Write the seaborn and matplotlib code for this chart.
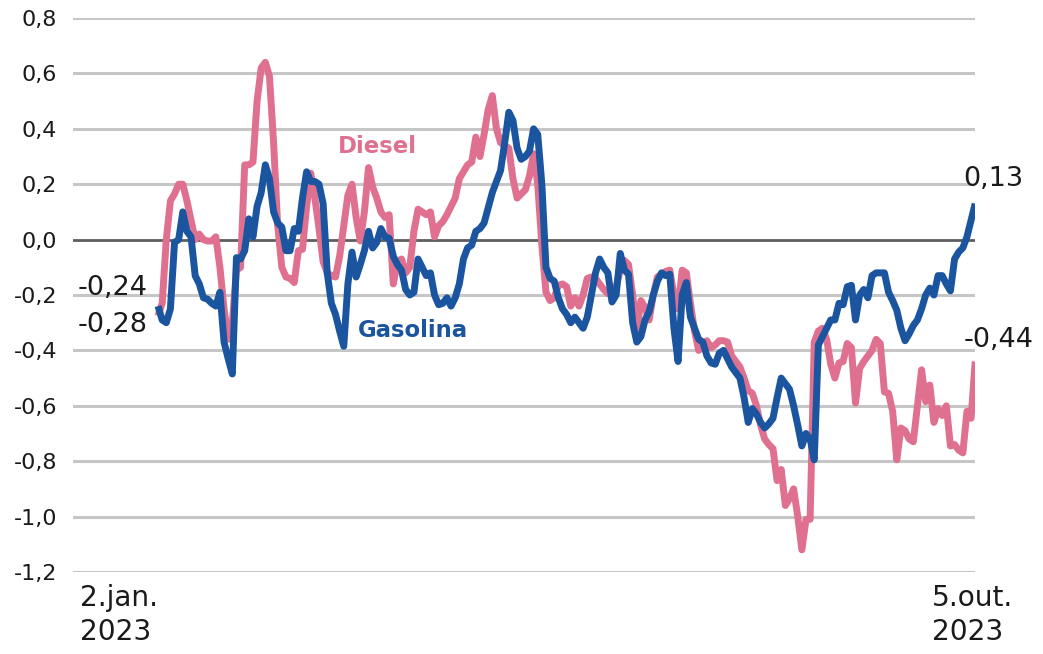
import numpy as np
import pandas as pd
import matplotlib
matplotlib.use("Agg")
import matplotlib.pyplot as plt
import seaborn as sns

# ---- data (R$/litro, trading days 2 jan 2023 - 5 out 2023) ----
gasolina = [
    -0.24, -0.29, -0.30, -0.25, -0.01, 0.00, 0.10, 0.03, 0.01, -0.13,
    -0.16, -0.21, -0.215, -0.23, -0.24, -0.19, -0.37, -0.43, -0.485, -0.065,
    -0.07, -0.04, 0.075, 0.01, 0.12, 0.17, 0.27, 0.22, 0.10, 0.06,
    0.045, -0.04, -0.04, 0.04, 0.03, 0.15, 0.245, 0.21, 0.21, 0.20,
    0.13, -0.12, -0.23, -0.27, -0.33, -0.385, -0.16, -0.045, -0.135, -0.09,
    -0.04, 0.03, -0.03, -0.01, 0.04, 0.01, 0.005, -0.06, -0.09, -0.11,
    -0.18, -0.20, -0.19, -0.07, -0.10, -0.13, -0.12, -0.20, -0.235, -0.23,
    -0.21, -0.24, -0.21, -0.16, -0.07, -0.03, -0.02, 0.03, 0.04, 0.06,
    0.115, 0.17, 0.21, 0.25, 0.35, 0.46, 0.43, 0.33, 0.29, 0.30,
    0.32, 0.40, 0.38, 0.20, -0.10, -0.14, -0.15, -0.21, -0.25, -0.27,
    -0.30, -0.28, -0.30, -0.32, -0.28, -0.20, -0.12, -0.07, -0.10, -0.12,
    -0.225, -0.20, -0.05, -0.11, -0.125, -0.30, -0.37, -0.35, -0.29, -0.26,
    -0.20, -0.15, -0.12, -0.13, -0.125, -0.32, -0.44, -0.20, -0.155, -0.28,
    -0.32, -0.36, -0.37, -0.42, -0.445, -0.45, -0.41, -0.40, -0.43, -0.46,
    -0.48, -0.50, -0.57, -0.66, -0.61, -0.63, -0.66, -0.68, -0.665, -0.645,
    -0.57, -0.50, -0.52, -0.54, -0.60, -0.67, -0.745, -0.70, -0.72, -0.795,
    -0.38, -0.35, -0.32, -0.29, -0.29, -0.23, -0.235, -0.17, -0.165, -0.29,
    -0.20, -0.18, -0.21, -0.13, -0.12, -0.12, -0.12, -0.19, -0.22, -0.255,
    -0.32, -0.365, -0.34, -0.31, -0.29, -0.25, -0.20, -0.175, -0.20, -0.13,
    -0.13, -0.16, -0.185, -0.07, -0.045, -0.03, 0.01, 0.07, 0.13,
]
diesel = [
    -0.275, -0.23, 0.00, 0.14, 0.165, 0.20, 0.20, 0.14, 0.07, 0.00,
    0.02, 0.00, -0.005, -0.005, 0.01, -0.10, -0.25, -0.36, -0.30, -0.11,
    -0.10, 0.27, 0.27, 0.28, 0.50, 0.62, 0.64, 0.59, 0.35, 0.05,
    -0.10, -0.135, -0.14, -0.155, -0.04, -0.035, 0.12, 0.24, 0.15, 0.04,
    -0.08, -0.12, -0.13, -0.135, -0.06, 0.05, 0.16, 0.20, 0.08, -0.005,
    0.10, 0.26, 0.19, 0.15, 0.10, 0.08, 0.09, -0.16, -0.08, -0.07,
    -0.12, -0.10, 0.03, 0.11, 0.10, 0.09, 0.10, 0.01, 0.05, 0.065,
    0.09, 0.12, 0.15, 0.22, 0.245, 0.27, 0.28, 0.37, 0.30, 0.38,
    0.47, 0.52, 0.40, 0.35, 0.34, 0.33, 0.22, 0.15, 0.165, 0.18,
    0.23, 0.31, 0.20, -0.02, -0.19, -0.22, -0.21, -0.165, -0.16, -0.17,
    -0.24, -0.21, -0.24, -0.20, -0.14, -0.135, -0.14, -0.16, -0.18, -0.195,
    -0.195, -0.17, -0.11, -0.075, -0.09, -0.20, -0.33, -0.22, -0.245, -0.29,
    -0.20, -0.135, -0.125, -0.115, -0.11, -0.20, -0.25, -0.11, -0.12, -0.23,
    -0.33, -0.40, -0.38, -0.365, -0.39, -0.38, -0.365, -0.365, -0.37, -0.42,
    -0.44, -0.46, -0.50, -0.545, -0.555, -0.60, -0.67, -0.72, -0.74, -0.755,
    -0.87, -0.83, -0.96, -0.935, -0.90, -1.00, -1.12, -1.01, -1.01, -0.37,
    -0.33, -0.32, -0.36, -0.45, -0.50, -0.445, -0.44, -0.375, -0.39, -0.59,
    -0.465, -0.44, -0.42, -0.40, -0.36, -0.375, -0.55, -0.555, -0.62, -0.795,
    -0.68, -0.69, -0.72, -0.73, -0.60, -0.47, -0.585, -0.525, -0.66, -0.61,
    -0.635, -0.60, -0.745, -0.74, -0.76, -0.77, -0.62, -0.645, -0.44,
]
y_ticks = [0.8, 0.6, 0.4, 0.2, 0.0, -0.2, -0.4, -0.6, -0.8, -1.0, -1.2]
x_labels = ["2.jan.\n2023", "5.out.\n2023"]
series_names = ["Diesel", "Gasolina"]

dates = pd.bdate_range("2023-01-02", "2023-10-05")
n = len(dates)
df = pd.DataFrame({
    "data": list(dates) * 2,
    "dia": list(range(n)) * 2,
    "valor": diesel + gasolina,
    "serie": ["Diesel"] * n + ["Gasolina"] * n,
})

PINK = "#e0708f"
BLUE = "#1b55a0"
TXT = "#1a1a1a"

sns.set_style("white")
plt.rcParams["font.family"] = ["DejaVu Sans"]

fig = plt.figure(figsize=(10.43, 6.54), dpi=100)
ax = fig.add_axes([0.070, 0.1254, 0.865, 0.847])

# grid
for v in y_ticks:
    if v == 0.0:
        continue
    ax.axhline(v, color="#c6c6c6", lw=2.2, zorder=0)
ax.axhline(0.0, color="#5e5e5e", lw=2.0, zorder=1)

sns.lineplot(data=df, x="dia", y="valor", hue="serie", hue_order=series_names,
             palette={"Diesel": PINK, "Gasolina": BLUE}, linewidth=5.0,
             legend=False, ax=ax, zorder=3)
for ln in ax.get_lines()[-2:]:
    ln.set_solid_joinstyle("round")
    ln.set_solid_capstyle("butt")

ax.set_xlim(-20.6, n - 1)
ax.set_ylim(-1.2, 0.8)
ax.set_yticks(y_ticks)
ax.set_yticklabels([f"{v:.1f}".replace(".", ",") for v in y_ticks],
                   fontsize=16, color=TXT)
ax.tick_params(axis="y", length=0, pad=11.5)
ax.set_xticks([])
ax.set_xlabel("")
ax.set_ylabel("")
for s in ax.spines.values():
    s.set_visible(False)

# x end labels
trans = matplotlib.transforms.blended_transform_factory(ax.transData, ax.transAxes)
ax.text(0, -0.022, x_labels[0], transform=trans, ha="right", va="top",
        multialignment="left", fontsize=20.2, color=TXT, linespacing=1.25)
ax.text(n - 1 - 0.7, -0.022, x_labels[1], transform=trans, ha="center", va="top",
        multialignment="left", fontsize=20.2, color=TXT, linespacing=1.25)

# start / end value labels
ax.text(-2.4, -0.200, f"{gasolina[0]:.2f}".replace(".", ","), ha="right",
        va="baseline", fontsize=19.5, color=TXT)
ax.text(-2.4, -0.333, f"{diesel[0]:.2f}".replace(".", ","), ha="right",
        va="baseline", fontsize=19.5, color=TXT)
ax.text(195.1, 0.193, f"{gasolina[-1]:.2f}".replace(".", ","), ha="left",
        va="baseline", fontsize=19.5, color=TXT, clip_on=False)
ax.text(195.1, -0.388, f"{diesel[-1]:.2f}".replace(".", ","), ha="left",
        va="baseline", fontsize=19.5, color=TXT, clip_on=False)

# series labels
ax.text(43.6, 0.312, "Diesel", ha="left", va="baseline", fontsize=16.4,
        fontweight="bold", color=PINK)
ax.text(48.5, -0.352, "Gasolina", ha="left", va="baseline", fontsize=16.4,
        fontweight="bold", color=BLUE)

fig.savefig("out.png", dpi=100)
